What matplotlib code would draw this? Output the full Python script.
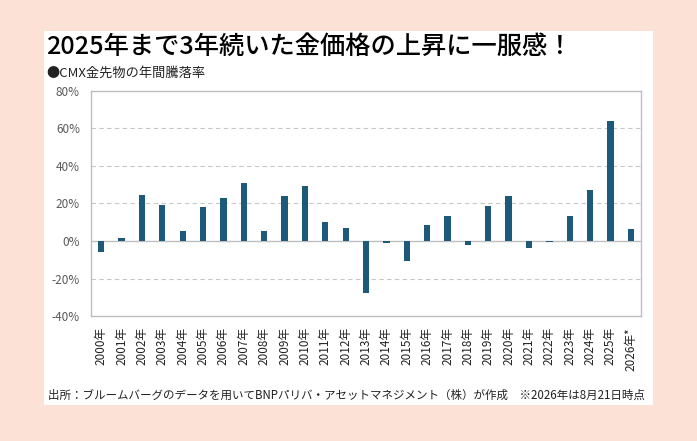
import matplotlib.pyplot as plt
from matplotlib.patches import Rectangle
from matplotlib.ticker import FuncFormatter

plt.rcParams['font.family'] = ['Noto Sans CJK JP', 'DejaVu Sans']

years = ['2000年', '2001年', '2002年', '2003年', '2004年', '2005年', '2006年',
         '2007年', '2008年', '2009年', '2010年', '2011年', '2012年', '2013年',
         '2014年', '2015年', '2016年', '2017年', '2018年', '2019年', '2020年',
         '2021年', '2022年', '2023年', '2024年', '2025年', '2026年*']
returns = [-5.7, 1.8, 24.6, 19.3, 5.5, 18.2, 23.0, 31.0, 5.5, 24.1, 29.4, 10.3,
           7.1, -27.8, -1.2, -10.4, 8.7, 13.5, -1.9, 18.8, 24.1, -3.5, -0.3,
           13.5, 27.3, 63.9, 6.5]
yticks = [-40, -20, 0, 20, 40, 60, 80]

bg = '#fbe1d6'
bar_color = '#1d5a79'
txt = '#595959'

fig = plt.figure(figsize=(6.97, 4.41), dpi=100, facecolor=bg)
fig.patches.append(Rectangle((0.063, 0.082), 0.874, 0.848, transform=fig.transFigure,
                             facecolor='white', edgecolor='none', zorder=-1))

fig.text(0.066, 0.893, '2025年まで3年続いた金価格の上昇に一服感！', fontsize=18.2,
         fontweight='medium', va='center', ha='left', color='black')
fig.text(0.066, 0.834, '●CMX金先物の年間騰落率', fontsize=9.5, va='center',
         ha='left', color='#222222')
fig.text(0.069, 0.104, '出所：ブルームバーグのデータを用いてBNPパリバ・アセットマネジメント（株）が作成　※2026年は8月21日時点',
         fontsize=8.3, va='center', ha='left', color='#222222')

ax = fig.add_axes([0.1306, 0.2834, 0.7891, 0.5103])
ax.set_zorder(2)
x = range(len(years))
ax.bar(x, returns, width=0.31, color=bar_color, zorder=3)
ax.set_xlim(-0.5, len(years) - 0.5)
ax.set_ylim(-40, 80)
ax.set_yticks(yticks)
ax.yaxis.set_major_formatter(FuncFormatter(lambda v, p: f'{v:.0f}%'))
ax.set_xticks(list(x))
ax.set_xticklabels(years, rotation=90, fontsize=8.5, color='#222222')
ax.tick_params(axis='y', labelsize=8.5, colors=txt, length=0, pad=8)
ax.tick_params(axis='x', length=0, pad=8)
for v in yticks:
    if v in (-40, 0, 80):
        continue
    ax.axhline(v, color='#c8c8c8', lw=0.8, ls=(0, (4, 3)), zorder=1)
ax.axhline(0, color='#bfbfbf', lw=1.0, zorder=2)
for s in ax.spines.values():
    s.set_color('#bfbfbf')
    s.set_linewidth(1.0)
ax.set_facecolor('white')

fig.savefig('out.png', dpi=100, facecolor=bg)
